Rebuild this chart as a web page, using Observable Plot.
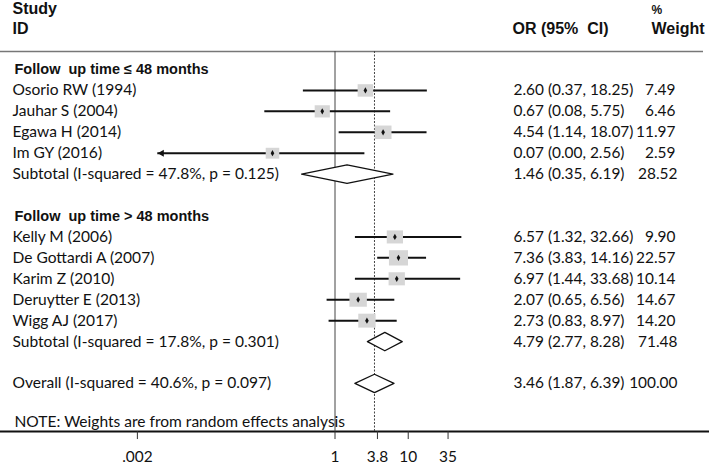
<!DOCTYPE html>
<html>
<head>
<meta charset="utf-8">
<script src="https://cdn.jsdelivr.net/npm/d3@7"></script>
<script src="https://cdn.jsdelivr.net/npm/@observablehq/plot@0.6"></script>
<style>
  html, body { margin: 0; padding: 0; background: #fff; }
  #chart svg { display: block; }
</style>
</head>
<body>
<div id="chart"></div>
<script>
// ---------------- data ----------------
const groupLabels = ["Follow\u00a0 up time \u2264 48 months", "Follow\u00a0 up time > 48 months"];
const groupRows = [0, 7];

const studies = ["Osorio RW (1994)", "Jauhar S (2004)", "Egawa H (2014)", "Im GY (2016)",
  "Kelly M (2006)", "De Gottardi A (2007)", "Karim Z (2010)", "Deruytter E (2013)", "Wigg AJ (2017)"];
const studyRows = [1, 2, 3, 4, 8, 9, 10, 11, 12];
const esLabels = ["2.60 (0.37, 18.25)", "0.67 (0.08, 5.75)", "4.54 (1.14, 18.07)", "0.07 (0.00, 2.56)",
  "6.57 (1.32, 32.66)", "7.36 (3.83, 14.16)", "6.97 (1.44, 33.68)", "2.07 (0.65, 6.56)", "2.73 (0.83, 8.97)"];
const weights = [7.49, 6.46, 11.97, 2.59, 9.90, 22.57, 10.14, 14.67, 14.20];
// estimates and CIs as drawn in the graphic
const drawnOR = [2.60, 0.67, 4.54, 0.14, 6.57, 7.36, 6.97, 2.07, 2.73];
const drawnLo = [0.37, 0.11, 1.14, 0.00, 1.9, 3.83, 1.9, 0.78, 0.83];
const drawnHi = [18.25, 5.75, 18.07, 2.56, 54, 17.8, 52, 6.56, 7.07];
const clipLo = 0.0038; // lower display limit (arrow)

const pooledLabels = ["Subtotal (I-squared = 47.8%, p = 0.125)", "Subtotal (I-squared = 17.8%, p = 0.301)", "Overall (I-squared = 40.6%, p = 0.097)"];
const pooledBold = ["", "Subtotal", "Overall"];
const pooledRows = [5, 13, 15];
const pooledOR = [1.46, 4.79, 3.46];
const pooledLo = [0.35, 2.77, 1.87];
const pooledHi = [6.19, 8.28, 6.39];
const pooledESLabels = ["1.46 (0.35, 6.19)", "4.79 (2.77, 8.28)", "3.46 (1.87, 6.39)"];
const pooledWeights = [28.52, 71.48, 100.00];

const noteText = "NOTE: Weights are from random effects analysis";
const noteRow = 17;
const tickValues = [0.002, 1, 3.8, 10, 35];

// ---------------- layout ----------------
const W = 709, H = 464;
const pxPerLn = 31.8, xAtOne = 334.5;
const headerLineRow = -0.86, axisRow = 17.3, diamondHalf = 0.44;

const ctx = document.createElement("canvas").getContext("2d");
function fit(text, target, font) { ctx.font = "100px " + font; return 100 * target / ctx.measureText(text).width; }
const bodyFont = "Lato";
const bodySize = fit(noteText, 331, bodyFont);
const numSize = fit("2.60 (0.37, 18.25)", 120, bodyFont);

// slightly wide box symbol (weight box)
const box = {
  draw(c, size) {
    const s = Math.sqrt(size), w = s * 1.12, h = s * 0.9;
    c.moveTo(-w / 2, -h / 2); c.lineTo(w / 2, -h / 2); c.lineTo(w / 2, h / 2); c.lineTo(-w / 2, h / 2); c.closePath();
  }
};

const studyData = studies.map((s, i) => ({
  label: s, row: studyRows[i], es: drawnOR[i], lo: drawnLo[i], hi: drawnHi[i],
  w: weights[i], esLabel: esLabels[i], wLabel: weights[i].toFixed(2)
}));
const pooledData = pooledLabels.map((s, i) => ({
  label: s, bold: pooledBold[i], row: pooledRows[i], es: pooledOR[i], lo: pooledLo[i], hi: pooledHi[i],
  esLabel: pooledESLabels[i], wLabel: pooledWeights[i].toFixed(2)
}));
const diamondPts = pooledData.flatMap((d, i) => [
  {g: i, x: d.lo, y: d.row}, {g: i, x: d.es, y: d.row - diamondHalf},
  {g: i, x: d.hi, y: d.row}, {g: i, x: d.es, y: d.row + diamondHalf}, {g: i, x: d.lo, y: d.row}
]);
const groupData = groupLabels.map((l, i) => ({label: l, row: groupRows[i]}));

const txt = {fontFamily: bodyFont, fill: "#111", textAnchor: "start", frameAnchor: "left"};
const hdr = {text: d => d, frameAnchor: "top-left", lineAnchor: "middle", fontFamily: "Liberation Sans", fontWeight: "bold", fontSize: 16, fill: "#111", textAnchor: "start"};

const svg = Plot.plot({
  width: W, height: H,
  marginLeft: 0, marginRight: 0, marginTop: 0, marginBottom: H - 431,
  style: {fontFamily: bodyFont, background: "white", color: "#111"},
  x: {type: "log", domain: [0.002, 35],
      range: [xAtOne + pxPerLn * Math.log(0.002), xAtOne + pxPerLn * Math.log(35)], axis: null},
  y: {domain: [0, 17], range: [69, 424.8], axis: null},
  r: {type: "sqrt", domain: [2.5, 22.57], range: [6.8, 9.6], clamp: true},
  marks: [
    // header separator and axis line
    Plot.ruleY([headerLineRow], {stroke: "#777", strokeWidth: 1.5, insetRight: 6}),
    Plot.ruleY([axisRow], {stroke: "#111", strokeWidth: 2}),
    // null line and overall estimate line
    Plot.ruleX([1], {y1: headerLineRow, y2: axisRow, stroke: "#444", strokeWidth: 1}),
    Plot.ruleX([pooledOR[2]], {y1: headerLineRow, y2: axisRow, stroke: "#444", strokeWidth: 1, strokeDasharray: "2,1.5"}),
    // ticks + labels
    Plot.ruleX(tickValues, {x: d => d, y1: axisRow, y2: axisRow + 0.38, stroke: "#333", strokeWidth: 1}),
    Plot.text(tickValues, {x: d => d, frameAnchor: "bottom", lineAnchor: "middle", dy: 26,
      text: d => d < 1 ? String(d).replace(/^0/, "") : String(d),
      fontFamily: bodyFont, fontSize: numSize, fill: "#111"}),
    // CIs
    Plot.ruleY(studyData, {y: "row", x1: d => Math.max(d.lo, clipLo), x2: "hi", stroke: "#111", strokeWidth: 2}),
    Plot.dot(studyData.filter(d => d.lo < clipLo), {x: () => clipLo, y: "row", symbol: "triangle", r: 2.6, rotate: -90, fill: "#111", stroke: "none", dx: 4}),
    // weight boxes
    Plot.dot(studyData, {x: "es", y: "row", r: "w", symbol: box, fill: "#d6d6d6", stroke: "none"}),
    Plot.dot(studyData, {x: "es", y: "row", r: 1.9, symbol: "diamond", fill: "#111", stroke: "none"}),
    // pooled diamonds
    Plot.line(diamondPts, {x: "x", y: "y", z: "g", fill: "white", stroke: "#111", strokeWidth: 1.3, curve: "linear"}),
    // left column
    Plot.text(["Study"], {...hdr, dx: 12, dy: 8.2}),
    Plot.text(["ID"], {...hdr, dx: 12, dy: 28.2}),
    Plot.text(groupData, {y: "row", text: "label", ...txt, dx: 14, fontFamily: "Liberation Sans", fontWeight: "bold", fontSize: 14.5}),
    Plot.text(studyData, {y: "row", text: "label", ...txt, dx: 12, fontSize: bodySize}),
    Plot.text(pooledData, {y: "row", text: "label", ...txt, dx: 12, fontSize: bodySize, ariaLabel: "pooled-labels"}),
    Plot.text([noteText], {y: () => noteRow, text: d => d, ...txt, dx: 14, dy: -3, fontSize: bodySize}),
    // right columns
    Plot.text(["OR (95%\u00a0 CI)"], {...hdr, dx: 512, dy: 28.2}),
    Plot.text(["%"], {...hdr, dx: 651, dy: 9.5, fontSize: 12}),
    Plot.text(["Weight"], {...hdr, dx: 651, dy: 28.2}),
    Plot.text(studyData, {y: "row", text: "esLabel", ...txt, dx: 513, fontSize: numSize}),
    Plot.text(pooledData, {y: "row", text: "esLabel", ...txt, dx: 513, fontSize: numSize}),
    Plot.text(studyData, {y: "row", text: "wLabel", ...txt, textAnchor: "end", dx: 675, fontSize: numSize}),
    Plot.text(pooledData, {y: "row", text: "wLabel", ...txt, textAnchor: "end", dx: 677, fontSize: numSize})
  ]
});

// bold prefixes ("Subtotal", "Overall") within pooled labels
const boldMap = new Map(pooledData.map(d => [d.label, d.bold]));
svg.querySelectorAll('g[aria-label="pooled-labels"] text').forEach(t => {
  const s = t.textContent, b = boldMap.get(s);
  if (!b) return;
  t.textContent = "";
  const ns = "http://www.w3.org/2000/svg";
  const t1 = document.createElementNS(ns, "tspan"); t1.setAttribute("font-weight", "bold"); t1.textContent = b;
  const t2 = document.createElementNS(ns, "tspan"); t2.textContent = s.slice(b.length);
  t.appendChild(t1); t.appendChild(t2);
  t.setAttribute("xml:space", "preserve");
});
document.getElementById("chart").appendChild(svg);
</script>
</body>
</html>
